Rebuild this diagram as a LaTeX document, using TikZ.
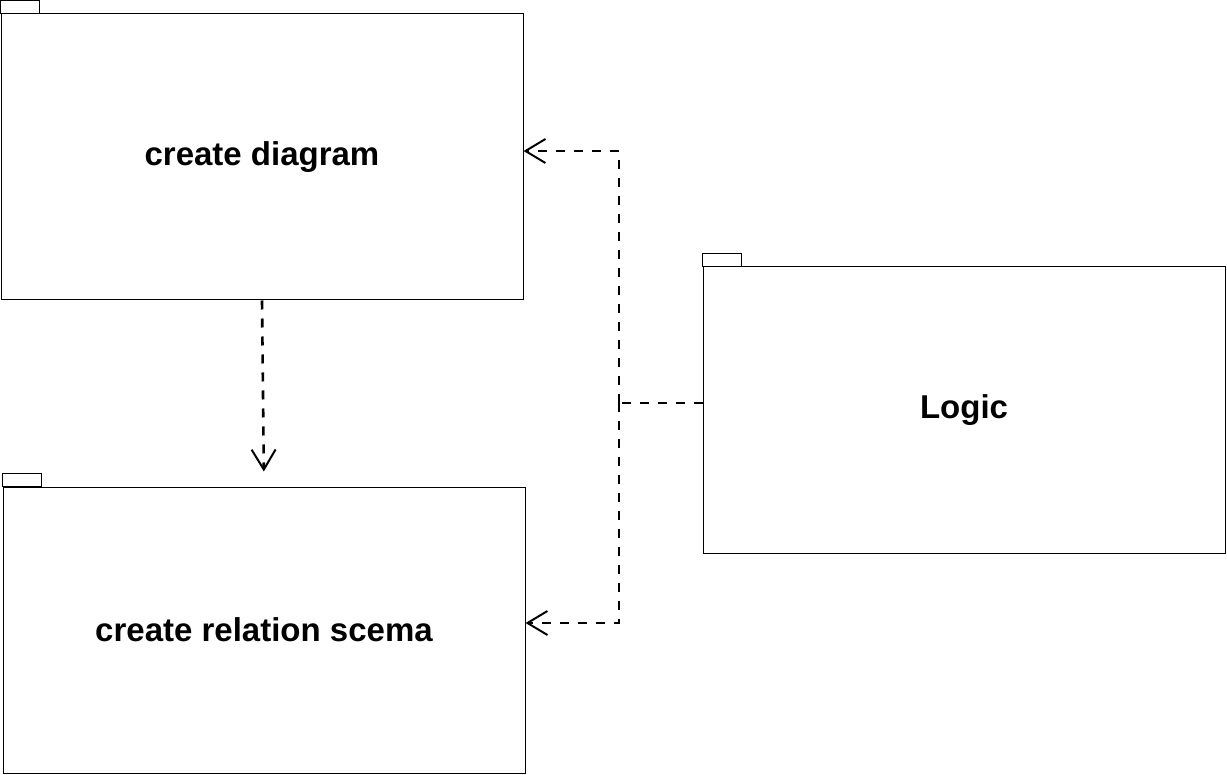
\documentclass[tikz,border=0pt]{standalone}
\usepackage{fontspec}
\setmainfont{Liberation Sans}
\usetikzlibrary{arrows.meta}
\begin{document}
\begin{tikzpicture}[x=1pt,y=1pt,
  pkg/.style={draw=black,line width=0.5pt,minimum width=261pt,minimum height=143pt,inner sep=0pt,
    font=\fontsize{16.5}{19}\selectfont\bfseries},
  tab/.style={draw=black,line width=0.5pt},
  dep/.style={draw=black,line width=1.3pt,dash pattern=on 4.5pt off 4.5pt},
  tip/.style={-{Straight Barb[length=10pt,width=12pt,line width=1pt]}}]
\useasboundingbox (0,0) rectangle (613.5,-387.5);
\node[pkg] (cd) at (131,-78.5) {create diagram};
\node[pkg] (crs) at (132,-315) {create relation scema};
\node[pkg] (logic) at (482,-205) {Logic};
\foreach \n in {cd,crs,logic}{
  \draw[tab] (\n.north west) rectangle ++(19.5,6.5);
}
\coordinate (j) at (309.5,-201.5);
\draw[dep] ([yshift=3.5pt]logic.west) -- (j);
\draw[dep,tip] (j) |- ([yshift=3pt]cd.east);
\draw[dep,tip] (j) |- ([yshift=3.5pt]crs.east);
\draw[dep,tip,shorten >=7.5pt] (cd.south) -- (crs.north);
\end{tikzpicture}
\end{document}
